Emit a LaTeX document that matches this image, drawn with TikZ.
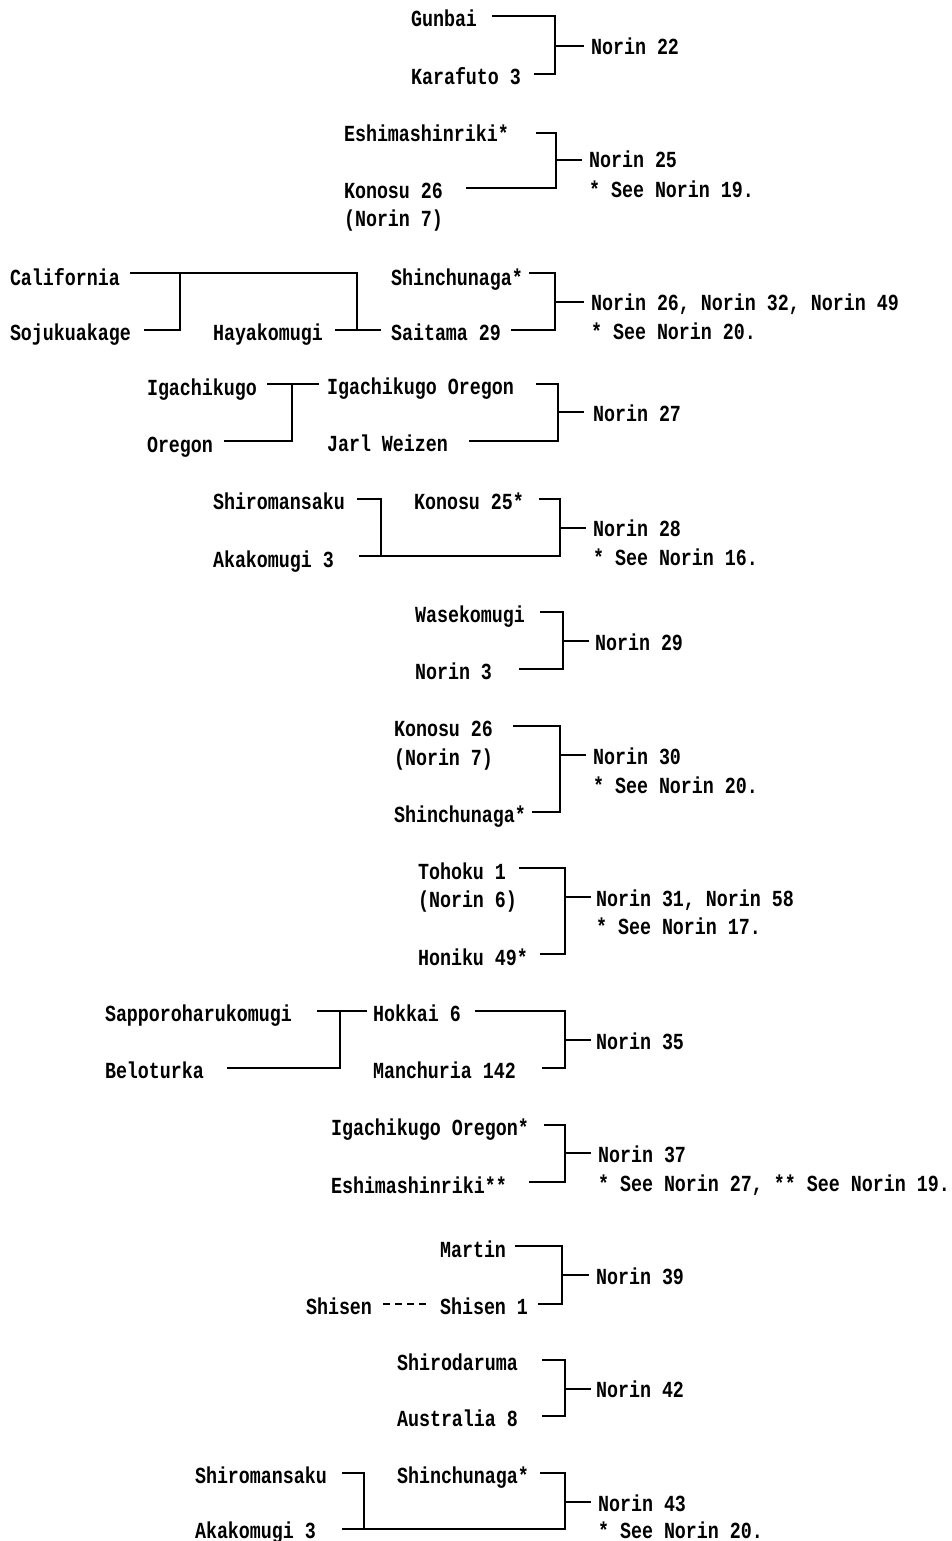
\documentclass[tikz,border=0pt]{standalone}
\usepackage{fontspec}
\newfontfamily\cond{Liberation Mono}[FakeStretch=0.797]
\begin{document}
\begin{tikzpicture}[x=1pt,y=-1pt,
  lbl/.style={anchor=base west, inner sep=0pt, outer sep=0pt,
              font=\cond\bfseries\fontsize{23}{26}\selectfont},
  ln/.style={line width=1.6pt, line cap=rect},
  dashln/.style={line width=1.6pt, dash pattern=on 7pt off 5pt}]
\useasboundingbox (0,0) rectangle (951,1541);

% ---------- Norin 22 ----------
\node[lbl] (gunbai)   at (411,27)  {Gunbai};
\node[lbl] (karafuto) at (411,85)  {Karafuto 3};
\node[lbl] (n22)      at (591,55)  {Norin 22};
\coordinate (a1) at (493,16);
\coordinate (b1) at (535,74);
\coordinate (j1) at (555,46);
\coordinate (e1) at (583,46);
\draw[ln] (a1) -| (j1);
\draw[ln] (b1) -| (j1);
\draw[ln] (j1) -- (e1);

% ---------- Norin 25 ----------
\node[lbl] (eshi1)  at (344,142) {Eshimashinriki*};
\node[lbl] (kon26a) at (344,198) {Konosu 26};
\node[lbl] (nor7a)  at (344,226) {(Norin 7)};
\node[lbl] (n25)    at (589,168) {Norin 25};
\node[lbl] (see19)  at (589,197) {* See Norin 19.};
\coordinate (a2) at (537,133);
\coordinate (b2) at (467,188);
\coordinate (j2) at (556,160);
\coordinate (e2) at (581,160);
\draw[ln] (a2) -| (j2);
\draw[ln] (b2) -| (j2);
\draw[ln] (j2) -- (e2);

% ---------- Norin 26, 32, 49 ----------
\node[lbl] (calif) at (10,285)  {California};
\node[lbl] (soju)  at (10,340)  {Sojukuakage};
\node[lbl] (haya)  at (213,340) {Hayakomugi};
\node[lbl] (shin1) at (391,285) {Shinchunaga*};
\node[lbl] (sai29) at (391,340) {Saitama 29};
\node[lbl] (n26)   at (591,310) {Norin 26, Norin 32, Norin 49};
\node[lbl] (see20a) at (591,339) {* See Norin 20.};
\coordinate (c3) at (131,273);
\coordinate (s3) at (145,330);
\coordinate (v3) at (180,273);
\coordinate (k3) at (357,273);
\coordinate (h3) at (336,330);
\coordinate (t3) at (380,330);
\draw[ln] (c3) -- (k3) -- (k3 |- h3);
\draw[ln] (s3) -| (v3);
\draw[ln] (h3) -- (t3);
\coordinate (a3) at (530,273);
\coordinate (b3) at (512,330);
\coordinate (j3) at (555,302);
\coordinate (e3) at (583,302);
\draw[ln] (a3) -| (j3);
\draw[ln] (b3) -| (j3);
\draw[ln] (j3) -- (e3);

% ---------- Norin 27 ----------
\node[lbl] (iga)    at (147,395) {Igachikugo};
\node[lbl] (oreg)   at (147,452) {Oregon};
\node[lbl] (igaore) at (327,394) {Igachikugo Oregon};
\node[lbl] (jarl)   at (327,451) {Jarl Weizen};
\node[lbl] (n27)    at (593,421) {Norin 27};
\coordinate (c4) at (268,384);
\coordinate (t4) at (318,384);
\coordinate (o4) at (225,441);
\coordinate (v4) at (292,384);
\draw[ln] (c4) -- (t4);
\draw[ln] (o4) -| (v4);
\coordinate (a4) at (537,384);
\coordinate (b4) at (470,441);
\coordinate (j4) at (558,412);
\coordinate (e4) at (583,412);
\draw[ln] (a4) -| (j4);
\draw[ln] (b4) -| (j4);
\draw[ln] (j4) -- (e4);

% ---------- Norin 28 ----------
\node[lbl] (shiro1) at (213,509) {Shiromansaku};
\node[lbl] (aka1)   at (213,567) {Akakomugi 3};
\node[lbl] (kon25)  at (414,509) {Konosu 25*};
\node[lbl] (n28)    at (593,536) {Norin 28};
\node[lbl] (see16)  at (593,565) {* See Norin 16.};
\coordinate (s5) at (358,499);
\coordinate (v5) at (381,556);
\coordinate (a5) at (540,499);
\coordinate (b5) at (360,556);
\coordinate (j5) at (560,528);
\coordinate (e5) at (585,528);
\draw[ln] (s5) -| (v5);
\draw[ln] (a5) -| (j5);
\draw[ln] (b5) -| (j5);
\draw[ln] (j5) -- (e5);

% ---------- Norin 29 ----------
\node[lbl] (wase) at (415,622) {Wasekomugi};
\node[lbl] (nor3) at (415,679) {Norin 3};
\node[lbl] (n29)  at (595,650) {Norin 29};
\coordinate (a6) at (541,612);
\coordinate (b6) at (520,669);
\coordinate (j6) at (563,641);
\coordinate (e6) at (588,641);
\draw[ln] (a6) -| (j6);
\draw[ln] (b6) -| (j6);
\draw[ln] (j6) -- (e6);

% ---------- Norin 30 ----------
\node[lbl] (kon26b) at (394,736) {Konosu 26};
\node[lbl] (nor7b)  at (394,765) {(Norin 7)};
\node[lbl] (shin2)  at (394,822) {Shinchunaga*};
\node[lbl] (n30)    at (593,764) {Norin 30};
\node[lbl] (see20b) at (593,793) {* See Norin 20.};
\coordinate (a7) at (514,726);
\coordinate (b7) at (533,812);
\coordinate (j7) at (560,755);
\coordinate (e7) at (585,755);
\draw[ln] (a7) -| (j7);
\draw[ln] (b7) -| (j7);
\draw[ln] (j7) -- (e7);

% ---------- Norin 31, Norin 58 ----------
\node[lbl] (toh)   at (418,879) {Tohoku 1};
\node[lbl] (nor6)  at (418,907) {(Norin 6)};
\node[lbl] (hon)   at (418,965) {Honiku 49*};
\node[lbl] (n31)   at (596,906) {Norin 31, Norin 58};
\node[lbl] (see17) at (596,934) {* See Norin 17.};
\coordinate (a8) at (520,868);
\coordinate (b8) at (541,954);
\coordinate (j8) at (565,897);
\coordinate (e8) at (590,897);
\draw[ln] (a8) -| (j8);
\draw[ln] (b8) -| (j8);
\draw[ln] (j8) -- (e8);

% ---------- Norin 35 ----------
\node[lbl] (sap)  at (105,1021) {Sapporoharukomugi};
\node[lbl] (belo) at (105,1078) {Beloturka};
\node[lbl] (hok)  at (373,1021) {Hokkai 6};
\node[lbl] (man)  at (373,1078) {Manchuria 142};
\node[lbl] (n35)  at (596,1049) {Norin 35};
\coordinate (s9) at (318,1011);
\coordinate (t9) at (366,1011);
\coordinate (o9) at (228,1068);
\coordinate (v9) at (340,1011);
\draw[ln] (s9) -- (t9);
\draw[ln] (o9) -| (v9);
\coordinate (a9) at (476,1011);
\coordinate (b9) at (543,1068);
\coordinate (j9) at (565,1040);
\coordinate (e9) at (590,1040);
\draw[ln] (a9) -| (j9);
\draw[ln] (b9) -| (j9);
\draw[ln] (j9) -- (e9);

% ---------- Norin 37 ----------
\node[lbl] (igaore2) at (331,1135) {Igachikugo Oregon*};
\node[lbl] (eshi2)   at (331,1193) {Eshimashinriki**};
\node[lbl] (n37)     at (598,1162) {Norin 37};
\node[lbl] (see27)   at (598,1191) {* See Norin 27, ** See Norin 19.};
\coordinate (a10) at (545,1125);
\coordinate (b10) at (530,1182);
\coordinate (j10) at (565,1153);
\coordinate (e10) at (590,1153);
\draw[ln] (a10) -| (j10);
\draw[ln] (b10) -| (j10);
\draw[ln] (j10) -- (e10);

% ---------- Norin 39 ----------
\node[lbl] (martin)  at (440,1257) {Martin};
\node[lbl] (shisen)  at (306,1314) {Shisen};
\node[lbl] (shisen1) at (440,1314) {Shisen 1};
\node[lbl] (n39)     at (596,1284) {Norin 39};
\coordinate (d11) at (383,1304);
\coordinate (f11) at (431,1304);
\draw[dashln] (d11) -- (f11);
\coordinate (a11) at (516,1246);
\coordinate (b11) at (539,1304);
\coordinate (j11) at (562,1275);
\coordinate (e11) at (588,1275);
\draw[ln] (a11) -| (j11);
\draw[ln] (b11) -| (j11);
\draw[ln] (j11) -- (e11);

% ---------- Norin 42 ----------
\node[lbl] (shirod) at (397,1370) {Shirodaruma};
\node[lbl] (aus)    at (397,1426) {Australia 8};
\node[lbl] (n42)    at (596,1397) {Norin 42};
\coordinate (a12) at (543,1360);
\coordinate (b12) at (543,1416);
\coordinate (j12) at (565,1389);
\coordinate (e12) at (590,1389);
\draw[ln] (a12) -| (j12);
\draw[ln] (b12) -| (j12);
\draw[ln] (j12) -- (e12);

% ---------- Norin 43 ----------
\node[lbl] (shiro2) at (195,1483) {Shiromansaku};
\node[lbl] (aka2)   at (195,1538) {Akakomugi 3};
\node[lbl] (shin3)  at (397,1483) {Shinchunaga*};
\node[lbl] (n43)    at (598,1511) {Norin 43};
\node[lbl] (see20c) at (598,1538) {* See Norin 20.};
\coordinate (s13) at (343,1473);
\coordinate (v13) at (364,1529);
\coordinate (a13) at (541,1473);
\coordinate (b13) at (343,1529);
\coordinate (j13) at (565,1502);
\coordinate (e13) at (590,1502);
\draw[ln] (s13) -| (v13);
\draw[ln] (a13) -| (j13);
\draw[ln] (b13) -| (j13);
\draw[ln] (j13) -- (e13);
\end{tikzpicture}
\end{document}
